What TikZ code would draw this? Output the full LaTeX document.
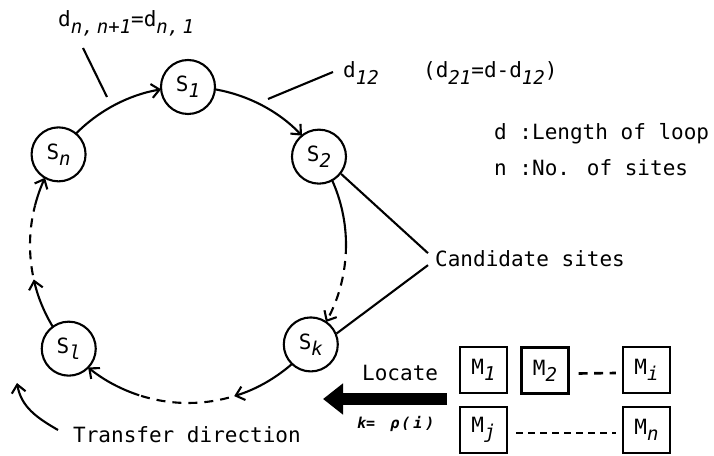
\documentclass[tikz,border=0pt]{standalone}
\usepackage{fontspec}
\setmainfont{DejaVu Sans Mono}
\usetikzlibrary{arrows.meta,calc}
\newcommand{\sbx}[1]{\raisebox{-0.3em}{\fontsize{19}{19}\selectfont\itshape #1}}
\begin{document}
\begin{tikzpicture}[x=1pt,y=1pt,
  every node/.style={font=\fontsize{21}{25}\selectfont},
  lw/.style={line width=2.1pt},
  site/.style={circle,draw,line width=2.1pt,minimum size=54pt,inner sep=0pt},
  mbox/.style={rectangle,draw,line width=2.2pt,minimum width=47pt,minimum height=46pt,inner sep=0pt},
  barb/.style={-{Straight Barb[length=8pt,width=14pt]}},
  loopdash/.style={dash pattern=on 9pt off 7pt},
  lbl/.style={anchor=base west,inner sep=0pt}
]
\useasboundingbox (0,0) rectangle (714,455);
\coordinate (C) at (188,210);
% sites
\node[site] (S1) at ([shift={(90:158)}]C) {S\sbx{1}};
\node[site] (S2) at ([shift={(34:158)}]C) {S\sbx{2}};
\node[site] (Sn) at ([shift={(145:158)}]C) {S\sbx{n}};
\node[site] (Sk) at ([shift={(-39:158)}]C) {S\sbx{k}};
\node[site] (Sl) at ([shift={(-139:158)}]C) {S\sbx{l}};
% loop arcs
\draw[lw,barb] ([shift={(135.2:158)}]C) arc[start angle=135.2,end angle=99.8,radius=158pt];
\draw[lw,barb] ([shift={(80.2:158)}]C) arc[start angle=80.2,end angle=43.8,radius=158pt];
\draw[lw] ([shift={(24.2:158)}]C) arc[start angle=24.2,end angle=0,radius=158pt];
\draw[lw,loopdash,barb] ([shift={(0:158)}]C) arc[start angle=0,end angle=-29.2,radius=158pt];
\draw[lw,barb] ([shift={(-48.8:158)}]C) arc[start angle=-48.8,end angle=-73,radius=158pt];
\draw[lw,loopdash] ([shift={(-75:158)}]C) arc[start angle=-75,end angle=-108,radius=158pt];
\draw[lw,barb] ([shift={(-108:158)}]C) arc[start angle=-108,end angle=-129.2,radius=158pt];
\draw[lw,barb] ([shift={(-148.8:158)}]C) arc[start angle=-148.8,end angle=-167.4,radius=158pt];
\draw[lw,loopdash] ([shift={(-169:158)}]C) arc[start angle=-169,end angle=-194.5,radius=158pt];
\draw[lw,barb] ([shift={(-194.5:158)}]C) arc[start angle=-194.5,end angle=-205.2,radius=158pt];
% labels
\node[lbl] (dn) at (58,428) {d\sbx{n,\,n+1}=d\sbx{n,\,1}};
\coordinate (dnA) at (83,407);
\coordinate (dnB) at (107,358);
\draw[lw] (dnA) -- (dnB);
\node[lbl] (d12) at (343,377) {d\sbx{12}};
\coordinate (dA) at (268,356);
\coordinate (dB) at (333,383);
\draw[lw] (dA) -- (dB);
\node[lbl] (d21) at (423,377) {(d\sbx{21}=d-d\sbx{12})};
\node[lbl] (leg1) at (494,315) {d :Length of loop};
\node[lbl] (leg2) at (494,279) {n :No. of sites};
\node[lbl] (cand) at (435,188) {Candidate sites};
\draw[lw] (S2.-38) -- ([shift={(-7,6)}]cand.west);
\draw[lw] (Sk.23) -- ([shift={(-7,-6)}]cand.west);
% locate
\node[lbl] (loc) at (362,75) {Locate};
\node[lbl] (krho) at (357,27) {\fontsize{15}{15}\selectfont\bfseries\itshape k=\hspace{15pt}ρ\kern2pt(\kern3pt i\kern3pt)};
\coordinate (bigS) at (447,56);
\coordinate (bigT) at (323,56);
\draw[line width=12pt,-{Triangle[length=20pt,width=30pt]}] (bigS) -- (bigT);
% boxes
\node[mbox] (M1) at (483.5,85) {M\sbx{1}};
\node[mbox] (M2) at (545,84.5) {M\sbx{2}};
\node[mbox] (Mi) at (646.5,85) {M\sbx{i}};
\node[mbox] (Mj) at (483.5,25) {M\sbx{j}};
\node[mbox] (Mn) at (646.5,25) {M\sbx{n}};
\draw[line width=2.6pt,dash pattern=on 9pt off 6.5pt] ([shift={(9,-3)}]M2.east) -- ([shift={(-6,-3)}]Mi.west);
\draw[line width=2.6pt,dash pattern=on 7pt off 5pt] ([shift={(8,-3)}]Mj.east) -- ([shift={(-6,-3)}]Mn.west);
% transfer direction
\node[lbl] (td) at (73,13) {Transfer direction};
\coordinate (tdA) at (58,25);
\coordinate (tdB) at (17,72);
\draw[lw,barb] (tdA) to[out=150,in=-80] (tdB);
\end{tikzpicture}
\end{document}
